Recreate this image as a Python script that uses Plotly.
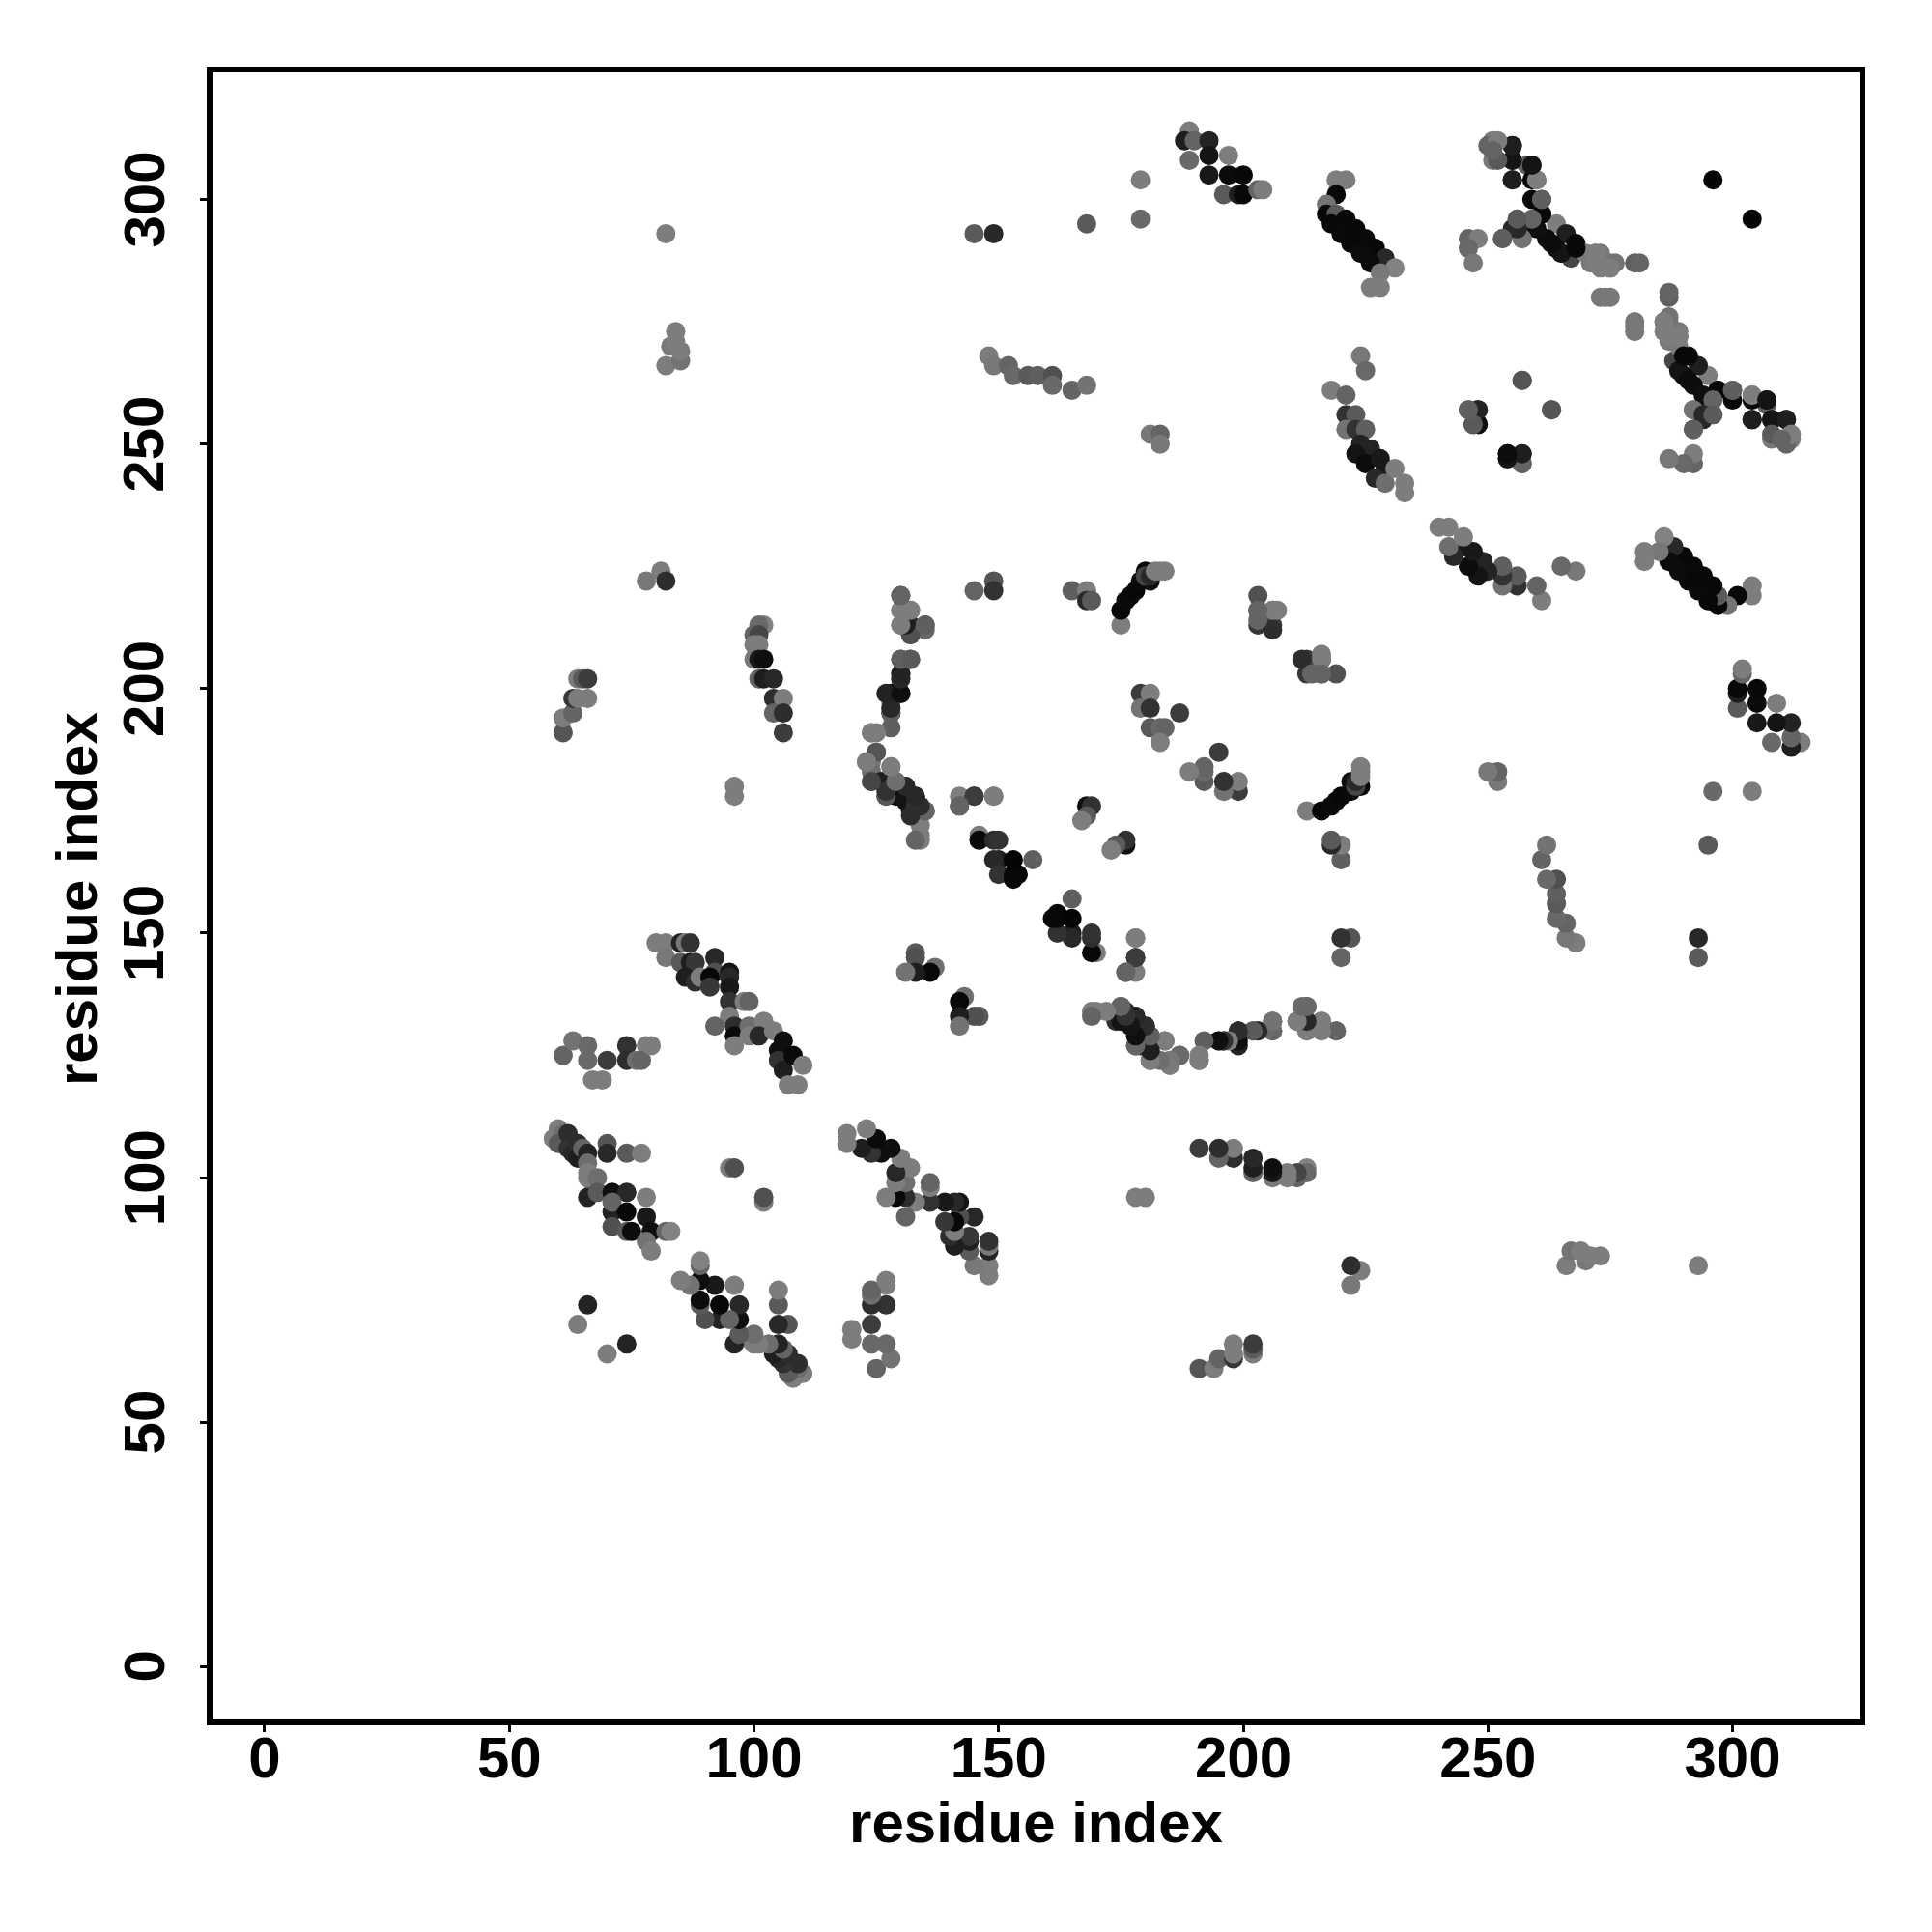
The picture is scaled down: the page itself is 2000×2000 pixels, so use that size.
import plotly.graph_objects as go

# contact pairs (res_i < res_j); the map is symmetric
res_i = [
    59,60,61,60,62,62,63,64,64,65,66,66,66,66,67,68,66,68,70,70,74,77,71,74,78,71,71,74,78,71,74,75,79,82,83,78,79,
    66,64,95,96,
    61,63,66,66,70,67,69,74,74,78,76,77,79,
    80,82,82,85,86,87,85,87,88,86,88,89,92,92,91,91,95,95,95,95,98,99,95,92,96,96,96,99,99,102,101,104,105,106,105,106,108,110,107,109,
    130,130,132,130,132,132,135,135,130,132,130,130,128,130,128,128,128,128,124,125,
    125,123,124,128,124,124,126,129,131,127,129,133,131,132,133,135,134,134,134,133,
    142,145,149,142,168,169,168,167,
    146,146,149,150,150,149,153,157,150,153,154,153,
    133,133,137,136,133,131,
    149,145,142,
    145,149,149,165,168,168,169,
    175,175,176,177,178,179,180,181,180,181,182,183,184,
    203,203,206,203,206,206,206,203,203,207,
    179,181,179,181,187,181,183,184,183,
    175,176,174,178,180,178,179,181,184,181,187,185,
    191,195,196,199,199,202,203,206,206,211,213,213,213,216,216,219,
    61,61,63,63,64,66,64,65,66,
    102,101,100,101,101,100,100,101,102,101,102,104,104,106,104,106,106,
    96,96,
    179,179,
    189,188,190,193,189,193,193,197,197,200,196,199,200,203,204,
    219,221,219,217,217,219,221,218,223,220,225,222,227,224,229,226,231,228,226,228,
    246,248,246,247,
    181,183,183,
    224,225,218,221,221,223,221,223,225,224,226,223,225,228,229,227,229,231,233,233,
    246,248,247,248,
    251,250,255,251,255,258,259,255,259,260,259,261,261,256,257,255,257,253,
    264,262,266,264,268,267,270,272,271,275,275,276,280,281,
    273,275,273,274,272,273,275,272,
    265,268,263,260,261,261,260,259,259,255,255,255,252,252,251,257,256,256,253,
    254,257,254,257,257,263,
    148,149,152,153,156,158,161,161,165,168,
    78,81,82,82,83,84,84,85,85,
    82,145,149,168,
    296,
]
res_j = [
    108,110,109,107,109,106,105,107,104,106,105,103,101,100,99,100,96,97,107,105,105,105,97,97,96,93,95,93,92,90,89,89,89,89,89,87,85,
    74,70,102,102,
    125,128,127,124,124,120,120,127,124,127,124,124,127,
    148,148,145,148,148,148,144,144,144,141,140,141,145,142,141,139,142,141,139,136,136,136,133,131,131,129,127,131,129,132,129,130,126,128,124,122,125,123,119,119,
    219,216,216,213,213,211,213,212,206,206,203,202,199,199,197,196,195,192,191,191,
    187,185,185,184,183,181,181,181,180,178,178,178,177,175,176,175,172,170,169,169,
    178,178,178,176,176,176,174,173,
    170,169,169,169,165,165,165,165,162,162,162,161,
    146,145,143,142,142,142,
    178,178,176,
    220,222,220,220,220,218,218,
    213,216,218,219,220,222,224,222,223,223,224,224,224,
    219,216,216,213,213,212,216,216,214,216,
    199,199,196,196,195,192,192,192,189,
    135,134,132,133,131,127,127,129,128,124,125,123,
    124,128,128,127,130,130,130,130,132,132,135,131,130,132,130,130,
    191,194,195,198,198,198,202,202,202,
    213,213,211,211,209,209,206,206,206,202,202,202,198,198,195,195,191,
    178,180,
    304,296,
    314,312,312,312,308,309,305,309,305,305,301,301,301,302,302,
    304,304,301,299,297,297,296,295,294,293,292,291,290,289,288,287,286,285,282,282,
    292,292,290,287,
    252,252,250,
    268,265,261,260,256,256,253,253,253,250,249,248,246,247,245,243,242,245,242,240,
    257,257,254,254,
    312,311,311,308,308,307,307,304,304,304,300,300,297,296,294,294,292,292,
    295,292,293,290,291,288,289,289,287,287,286,287,287,287,
    280,280,289,280,287,286,286,289,
    289,290,291,294,297,300,304,307,296,304,308,311,308,312,310,292,294,296,292,
    248,248,247,246,263,257,
    268,266,266,264,264,264,264,262,261,262,
    222,224,222,266,270,273,271,267,269,
    293,293,293,295,
    304,
]
gray = [
    125,125,110,90,45,50,40,45,30,100,35,110,125,125,125,110,35,90,85,40,90,125,15,40,125,35,100,8,25,80,90,12,15,100,130,115,125,
    35,125,125,80,
    100,115,105,105,60,125,125,50,45,125,110,100,125,
    125,125,120,35,120,50,90,30,55,30,45,125,40,80,8,55,20,40,25,50,125,100,125,100,45,10,125,110,125,125,40,125,15,15,50,30,10,125,125,125,
    100,125,125,125,40,125,105,105,105,115,40,90,15,45,125,50,15,95,125,125,
    105,125,120,125,110,125,30,95,45,100,15,40,20,20,50,100,125,125,125,100,
    125,50,125,105,15,50,90,125,
    125,8,45,50,30,40,5,95,50,8,5,8,
    90,80,110,8,30,115,
    125,60,100,
    100,85,50,95,125,40,90,
    125,8,10,10,8,10,8,15,70,40,125,125,125,
    80,90,70,55,60,45,125,100,100,125,
    60,125,115,50,60,90,105,100,125,
    100,45,45,40,40,90,50,110,125,70,85,125,
    125,95,40,35,15,40,35,95,90,80,95,30,125,125,125,100,
    85,125,100,55,125,125,125,90,60,
    130,105,100,70,125,125,120,25,15,100,30,40,45,125,100,45,60,
    125,125,
    125,105,
    125,30,100,35,105,20,25,125,10,8,90,30,8,100,125,
    125,125,8,115,8,90,8,8,8,10,10,8,8,12,40,12,130,120,125,125,
    100,125,105,120,
    120,100,120,
    120,105,125,100,50,90,115,50,95,35,35,20,12,25,25,40,110,125,125,125,
    100,30,20,12,
    125,100,40,120,30,95,30,25,8,125,8,95,12,100,45,40,110,95,
    125,12,30,8,8,70,125,125,120,125,125,115,95,100,
    120,120,120,120,125,125,125,125,
    20,8,12,15,8,95,125,20,100,30,20,30,90,125,100,115,40,90,95,
    15,35,90,95,85,85,
    125,120,100,105,90,95,80,105,100,115,
    120,125,45,125,120,125,125,115,125,
    125,90,40,90,
    5,
]
tick_values = [0, 50, 100, 150, 200, 250, 300]
axis_title = "residue index"

assert len(res_i) == len(res_j) == len(gray), (len(res_i), len(res_j), len(gray))

xs = res_i + res_j
ys = res_j + res_i
cs = [f"rgb({g},{g},{g})" for g in gray + gray]

font = dict(family="Liberation Sans", color="black", size=60)

fig = go.Figure(go.Scatter(
    x=xs, y=ys, mode="markers",
    marker=dict(size=20, color=cs, line=dict(width=0)),
    showlegend=False, hoverinfo="skip",
))

axis = dict(
    tickmode="array", tickvals=tick_values, ticktext=[f"<b>{v}</b>" for v in tick_values],
    showgrid=False, zeroline=False, showline=True, mirror=True,
    linecolor="black", linewidth=6, ticks="outside", ticklen=7, tickwidth=3,
    tickcolor="black", tickfont=font,
)
annotations = [
    dict(text=f"<b>{v}</b>", xref="paper", yref="y", x=-0.0416, y=v, showarrow=False,
         textangle=-90, xanchor="center", yanchor="middle", font=font)
    for v in tick_values
]
annotations.append(
    dict(text=f"<b>{axis_title}</b>", xref="paper", yref="paper", x=-0.0827, y=0.4985,
         showarrow=False, textangle=-90, xanchor="center", yanchor="middle", font=font)
)
fig.update_layout(
    width=2000, height=2000, paper_bgcolor="white", plot_bgcolor="white",
    margin=dict(l=212, r=83, t=67, b=228, autoexpand=False),
    xaxis=dict(axis, range=[-10.66, 325.96], tickangle=0, ticklabelstandoff=-25,
               title=dict(text=f"<b>{axis_title}</b>", font=font, standoff=11)),
    yaxis=dict(axis, range=[-10.76, 325.96], showticklabels=False),
    annotations=annotations,
)
fig.write_html("out.html")
